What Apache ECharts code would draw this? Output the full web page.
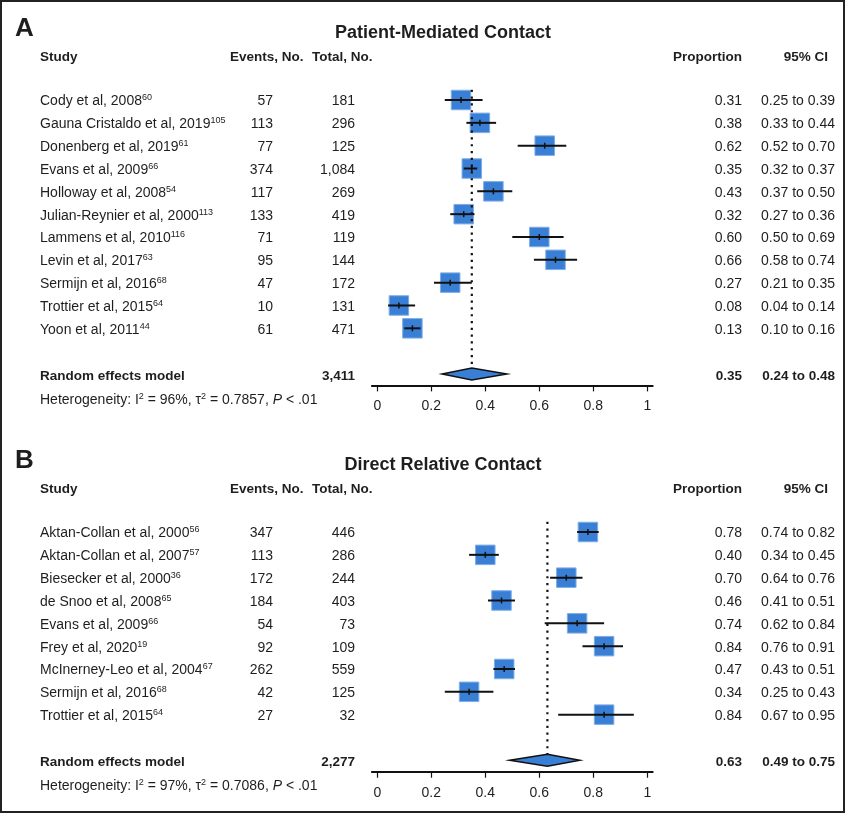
<!DOCTYPE html>
<html><head><meta charset="utf-8">
<script src="https://cdn.jsdelivr.net/npm/echarts@6/dist/echarts.min.js"></script>
<style>html,body{margin:0;padding:0;background:#fff}#c{width:846px;height:814px}</style>
</head><body><div id="c"></div>
<script>
// ---------- Panel A data ----------
const namesA = ['Cody et al, 2008', 'Gauna Cristaldo et al, 2019', 'Donenberg et al, 2019', 'Evans et al, 2009', 'Holloway et al, 2008', 'Julian-Reynier et al, 2000', 'Lammens et al, 2010', 'Levin et al, 2017', 'Sermijn et al, 2016', 'Trottier et al, 2015', 'Yoon et al, 2011'];
const refsA = ['60', '105', '61', '66', '54', '113', '116', '63', '68', '64', '44'];
const eventsA = ['57', '113', '77', '374', '117', '133', '71', '95', '47', '10', '61'];
const totalsA = ['181', '296', '125', '1,084', '269', '419', '119', '144', '172', '131', '471'];
const propA = [0.31, 0.38, 0.62, 0.35, 0.43, 0.32, 0.60, 0.66, 0.27, 0.08, 0.13];
const loA = [0.25, 0.33, 0.52, 0.32, 0.37, 0.27, 0.50, 0.58, 0.21, 0.04, 0.10];
const hiA = [0.39, 0.44, 0.70, 0.37, 0.50, 0.36, 0.69, 0.74, 0.35, 0.14, 0.16];
const summaryA = { total: '3,411', prop: 0.35, lo: 0.24, hi: 0.48, i2: '96%', tau2: '0.7857' };

// ---------- Panel B data ----------
const namesB = ['Aktan-Collan et al, 2000', 'Aktan-Collan et al, 2007', 'Biesecker et al, 2000', 'de Snoo et al, 2008', 'Evans et al, 2009', 'Frey et al, 2020', 'McInerney-Leo et al, 2004', 'Sermijn et al, 2016', 'Trottier et al, 2015'];
const refsB = ['56', '57', '36', '65', '66', '19', '67', '68', '64'];
const eventsB = ['347', '113', '172', '184', '54', '92', '262', '42', '27'];
const totalsB = ['446', '286', '244', '403', '73', '109', '559', '125', '32'];
const propB = [0.78, 0.40, 0.70, 0.46, 0.74, 0.84, 0.47, 0.34, 0.84];
const loB = [0.74, 0.34, 0.64, 0.41, 0.62, 0.76, 0.43, 0.25, 0.67];
const hiB = [0.82, 0.45, 0.76, 0.51, 0.84, 0.91, 0.51, 0.43, 0.95];
const summaryB = { total: '2,277', prop: 0.63, lo: 0.49, hi: 0.75, i2: '97%', tau2: '0.7086' };

const tickValues = [0, 0.2, 0.4, 0.6, 0.8, 1];
const tickLabels = ['0', '0.2', '0.4', '0.6', '0.8', '1'];

// ---------- layout ----------
const FONT = "'Liberation Sans', Arial, Helvetica, sans-serif";
const TXT = '#1e1e1e';
const BLUE = '#3a7fd6';
const ROW = 22.83;
const panels = [
  { letter: 'A', title: 'Patient-Mediated Contact', names: namesA, refs: refsA, events: eventsA, totals: totalsA, prop: propA, lo: loA, hi: hiA, sum: summaryA, top: 88.6 },
  { letter: 'B', title: 'Direct Relative Contact', names: namesB, refs: refsB, events: eventsB, totals: totalsB, prop: propB, lo: loB, hi: hiB, sum: summaryB, top: 520.6 }
];
const GRID_LEFT = 371.9, GRID_W = 280.8, XMIN = -0.02, XMAX = 1.02;

const chart = echarts.init(document.getElementById('c'), null, { renderer: 'canvas' });

const grids = [], xAxes = [], yAxes = [], series = [];
panels.forEach((p, g) => {
  const n = p.names.length;
  p.sumRow = n + 1;
  const yMin = -0.5, yMax = p.sumRow + 0.5;
  grids.push({ left: GRID_LEFT, width: GRID_W, top: p.top, height: (yMax - yMin) * ROW });
  xAxes.push({
    type: 'value', gridIndex: g, min: XMIN, max: XMAX, position: 'bottom',
    axisLine: { show: true, onZero: false, lineStyle: { color: '#111', width: 2 } },
    axisTick: { show: true, customValues: tickValues, length: 6, lineStyle: { color: '#111', width: 1.2 } },
    axisLabel: { show: true, customValues: tickValues, margin: 14, color: TXT, fontSize: 14, fontFamily: FONT,
      formatter: v => tickLabels[tickValues.findIndex(t => Math.abs(t - v) < 1e-9)] ?? '' },
    splitLine: { show: false }
  });
  yAxes.push({ type: 'value', gridIndex: g, min: yMin, max: yMax, inverse: true, show: false });

  // study markers
  series.push({
    type: 'custom', xAxisIndex: g, yAxisIndex: g, clip: false, z: 3,
    data: p.prop.map((v, i) => [v, p.lo[i], p.hi[i], i]),
    renderItem: (params, api) => {
      const c = api.coord([api.value(0), api.value(3)]);
      const l = api.coord([api.value(1), api.value(3)]);
      const h = api.coord([api.value(2), api.value(3)]);
      const s = 19.5;
      return { type: 'group', children: [
        { type: 'rect', shape: { x: c[0] - s / 2, y: c[1] - s / 2, width: s, height: s }, style: { fill: BLUE, stroke: '#7eaee6', lineWidth: 1 } },
        { type: 'line', shape: { x1: l[0], y1: c[1], x2: h[0], y2: c[1] }, style: { stroke: '#111', lineWidth: 2 } },
        { type: 'line', shape: { x1: c[0], y1: c[1] - 3, x2: c[0], y2: c[1] + 3 }, style: { stroke: '#111', lineWidth: 1.5 } }
      ] };
    }
  });
  // summary diamond
  series.push({
    type: 'custom', xAxisIndex: g, yAxisIndex: g, clip: false, z: 3,
    data: [[p.sum.prop, p.sum.lo, p.sum.hi, p.sumRow]],
    renderItem: (params, api) => {
      const c = api.coord([api.value(0), api.value(3)]);
      const l = api.coord([api.value(1), api.value(3)]);
      const h = api.coord([api.value(2), api.value(3)]);
      return { type: 'polygon', shape: { points: [[l[0], c[1]], [c[0], c[1] - 6], [h[0], c[1]], [c[0], c[1] + 6]] },
        style: { fill: BLUE, stroke: '#111', lineWidth: 1.5, lineJoin: 'miter', miterLimit: 10 } };
    }
  });
  // dotted reference line at pooled estimate
  series.push({
    type: 'custom', xAxisIndex: g, yAxisIndex: g, clip: false, z: 4,
    data: [[p.sum.prop, -0.45, p.sumRow - 0.28]],
    renderItem: (params, api) => {
      const a = api.coord([api.value(0), api.value(1)]);
      const b = api.coord([api.value(0), api.value(2)]);
      return { type: 'line', shape: { x1: a[0], y1: a[1], x2: b[0], y2: b[1] },
        style: { stroke: '#111', lineWidth: 2.2, lineDash: [2.2, 4.6] } };
    }
  });
});

chart.setOption({
  animation: false,
  backgroundColor: '#fff',
  grid: grids, xAxis: xAxes, yAxis: yAxes, series: series
});

// ---------- text columns (positions from the y scale) ----------
const C = { study: 40, eventsR: 273, totalR: 355, propR: 742, ciR: 835, hEvents: 230, hTotal: 312, hPropR: 742, hCIR: 828, titleX: 443, letter: 15 };
const fmt = v => v.toFixed(2);
const gfx = [];
function txt(x, y, text, opt) {
  opt = opt || {};
  const align = opt.align || 'left';
  gfx.push({
    type: 'text', x: x, y: y, z: 10,
    style: Object.assign({
      text: text, fill: TXT, fontFamily: FONT, fontSize: opt.size || 14, fontWeight: opt.bold ? 'bold' : 'normal',
      align: align, textAlign: align, verticalAlign: 'middle', textVerticalAlign: 'middle'
    }, opt.rich ? { rich: opt.rich } : {})
  });
}
const supRich = {
  n: { fontSize: 14, lineHeight: 16, fontFamily: FONT, fill: TXT, color: TXT },
  s: { fontSize: 9, lineHeight: 11, fontFamily: FONT, verticalAlign: 'top', fill: TXT, color: TXT }
};
const hetRich = {
  n: { fontSize: 14, lineHeight: 16, fontFamily: FONT, fill: TXT, color: TXT },
  s: { fontSize: 9, lineHeight: 9, fontFamily: FONT, verticalAlign: 'top', fill: TXT, color: TXT },
  i: { fontSize: 14, lineHeight: 16, fontFamily: FONT, fontStyle: 'italic', fill: TXT, color: TXT }
};

panels.forEach((p, g) => {
  const py = r => chart.convertToPixel({ gridIndex: g }, [0, r])[1];
  txt(C.letter, py(-3.1), p.letter, { bold: true, size: 26 });
  txt(C.titleX, py(-2.93), p.title, { bold: true, size: 18, align: 'center' });
  const hy = py(-1.88);
  txt(C.study, hy, 'Study', { bold: true, size: 13.5 });
  txt(C.hEvents, hy, 'Events, No.', { bold: true, size: 13.5 });
  txt(C.hTotal, hy, 'Total, No.', { bold: true, size: 13.5 });
  txt(C.hPropR, hy, 'Proportion', { bold: true, size: 13.5, align: 'right' });
  txt(C.hCIR, hy, '95% CI', { bold: true, size: 13.5, align: 'right' });
  p.names.forEach((nm, i) => {
    const y = py(i) + 1.5;
    txt(C.study, y, '{n|' + nm + '}{s|' + p.refs[i] + '}', { rich: supRich });
    txt(C.eventsR, y, p.events[i], { align: 'right' });
    txt(C.totalR, y, p.totals[i], { align: 'right' });
    txt(C.propR, y, fmt(p.prop[i]), { align: 'right' });
    txt(C.ciR, y, fmt(p.lo[i]) + ' to ' + fmt(p.hi[i]), { align: 'right' });
  });
  const sy = py(p.sumRow + 0.1);
  txt(C.study, sy, 'Random effects model', { bold: true, size: 13.5 });
  txt(C.totalR, sy, p.sum.total, { bold: true, size: 13.5, align: 'right' });
  txt(C.propR, sy, fmt(p.sum.prop), { bold: true, size: 13.5, align: 'right' });
  txt(C.ciR, sy, fmt(p.sum.lo) + ' to ' + fmt(p.sum.hi), { bold: true, size: 13.5, align: 'right' });
  txt(C.study, py(p.sumRow + 1.13),
    '{n|Heterogeneity: I}{s|2}{n| = ' + p.sum.i2 + ', τ}{s|2}{n| = ' + p.sum.tau2 + ', }{i|P}{n| < .01}', { rich: hetRich, size: 14 });
});

// frame
gfx.push({ type: 'rect', z: 20, shape: { x: 1, y: 1, width: 843, height: 811 }, style: { fill: 'none', stroke: '#222', lineWidth: 2 } });

chart.setOption({ graphic: { elements: gfx } });
</script>
</body></html>
